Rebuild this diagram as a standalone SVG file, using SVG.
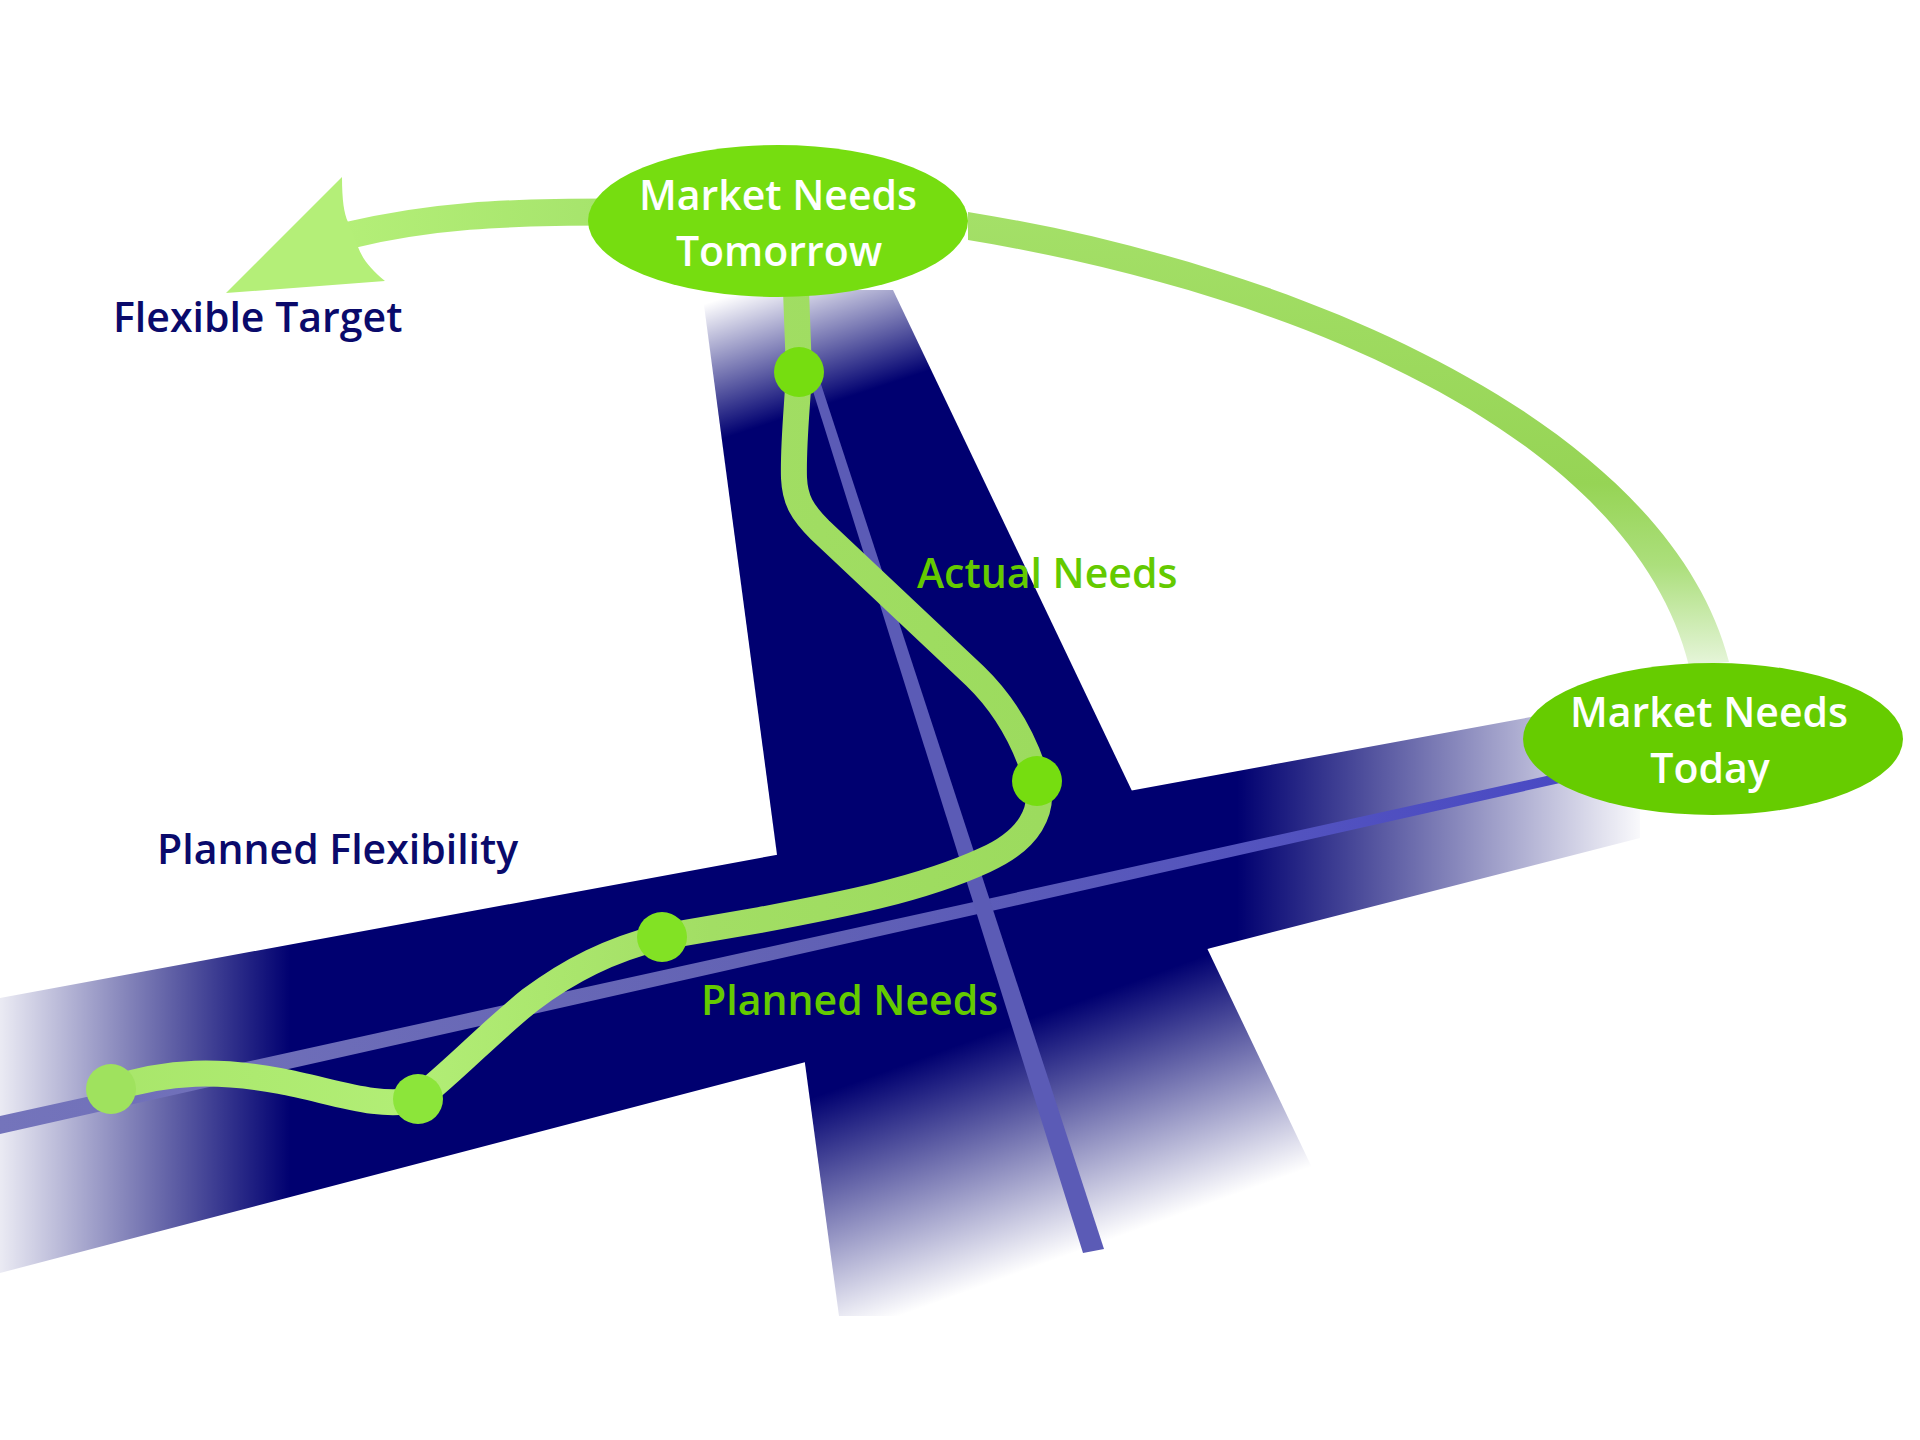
<svg xmlns="http://www.w3.org/2000/svg" width="1920" height="1440" viewBox="0 0 1920 1440">
<defs>
<style>
.nodeTxt{font-family:"Open Sans","Liberation Sans",sans-serif;font-weight:600;font-size:41px;fill:#ffffff;text-anchor:middle}
.navyTxt{font-family:"Open Sans","Liberation Sans",sans-serif;font-weight:600;font-size:41px;fill:#0a0a6b}
.greenTxt{font-family:"Open Sans","Liberation Sans",sans-serif;font-weight:600;font-size:41px;fill:#64ca00}
.road{stroke:none}
.dot{stroke:none}
</style>
<linearGradient id="gHRoad" gradientUnits="userSpaceOnUse" x1="0" y1="0" x2="1650" y2="0">
<stop offset="0" stop-color="#000070" stop-opacity="0.08"/>
<stop offset="0.176" stop-color="#000070" stop-opacity="1"/>
<stop offset="0.75" stop-color="#000070" stop-opacity="1"/>
<stop offset="1" stop-color="#000070" stop-opacity="0"/>
</linearGradient>
<linearGradient id="gVTop" gradientUnits="userSpaceOnUse" x1="713" y1="301" x2="755" y2="428">
<stop offset="0" stop-color="#000070" stop-opacity="0"/>
<stop offset="1" stop-color="#000070" stop-opacity="1"/>
</linearGradient>
<linearGradient id="gVBot" gradientUnits="userSpaceOnUse" x1="900" y1="1066" x2="980" y2="1287">
<stop offset="0" stop-color="#000070" stop-opacity="1"/>
<stop offset="1" stop-color="#000070" stop-opacity="0"/>
</linearGradient>
<linearGradient id="gHLine" gradientUnits="userSpaceOnUse" x1="0" y1="0" x2="1560" y2="0">
<stop offset="0" stop-color="#7474bb"/>
<stop offset="0.5" stop-color="#6262b4"/>
<stop offset="1" stop-color="#4a4ac4"/>
</linearGradient>
<linearGradient id="gCurve" gradientUnits="userSpaceOnUse" x1="100" y1="0" x2="1040" y2="0">
<stop offset="0" stop-color="#a8e66a"/>
<stop offset="0.33" stop-color="#b2ee76"/>
<stop offset="0.65" stop-color="#a2de64"/>
<stop offset="1" stop-color="#9cdb5e"/>
</linearGradient>
<linearGradient id="gArc" gradientUnits="userSpaceOnUse" x1="0" y1="212" x2="0" y2="665">
<stop offset="0" stop-color="#a4e068"/>
<stop offset="0.6" stop-color="#96d455"/>
<stop offset="0.78" stop-color="#acdf7c"/>
<stop offset="1" stop-color="#e6f5da"/>
</linearGradient>
<linearGradient id="gShaft" gradientUnits="userSpaceOnUse" x1="600" y1="0" x2="340" y2="0">
<stop offset="0" stop-color="#a6e46c"/>
<stop offset="1" stop-color="#b4ef78"/>
</linearGradient>
</defs>
<rect x="0" y="0" width="1920" height="1440" fill="#ffffff"/>

<g id="roads">
<polygon class="road" fill="url(#gVTop)" points="702,290 893,290 1184,900 783,900"/>
<polygon class="road" fill="url(#gVBot)" points="783,900 1184,900 1383,1316 839,1316"/>
<polygon class="road" fill="url(#gHRoad)" points="0,998 776,855 1129,791 1640,697 1640,838 1211,948 802,1063 0,1273"/>
</g>

<g id="axes">
<polygon fill="url(#gHLine)" points="0,1116 1560,773 1560,783 0,1134"/>
<polygon fill="#5b5bb6" points="807,372 817,372 1104,1249 1083,1253"/>
</g>

<g id="connectors">
<path id="arc-today-tomorrow" fill="url(#gArc)" d="M968,212 C1305,266 1668,425 1729,662 L1689,666 C1632,435 1295,294 968,240 Z"/>
<path id="arrow-shaft" fill="none" stroke="url(#gShaft)" stroke-width="27" d="M610,212 C500,212 430,216 350,235"/>
<path id="arrow-head" fill="#b4ef78" d="M342,177 C342,200 344,214 348,222 L358,247 C364,262 372,270 385,281 L226,293 Z"/>
<path id="actual-needs-path" fill="none" stroke="url(#gCurve)" stroke-width="26" stroke-linejoin="round" stroke-linecap="round" d="M796,290 L799,372 C797,410 793,445 794,478 C795,500 802,512 820,530 L975,676 C1005,705 1025,740 1037,781 C1045,810 1030,840 985,860 C920,890 840,905 760,920 C720,927 690,932 661,937 C610,950 570,970 530,1000 C490,1032 460,1065 418,1099 C380,1110 330,1090 280,1081 C220,1070 170,1070 111,1089"/>
</g>

<g id="milestones">
<circle class="dot" cx="799" cy="372" r="25" fill="#76dd10"/>
<circle class="dot" cx="1037" cy="781" r="25" fill="#76dd10"/>
<circle class="dot" cx="662" cy="937" r="25" fill="#82e224"/>
<circle class="dot" cx="418" cy="1099" r="25" fill="#8ce53a"/>
<circle class="dot" cx="111" cy="1089" r="25" fill="#9fe25e"/>
</g>

<g id="node-tomorrow">
<ellipse cx="778" cy="221" rx="190" ry="76" fill="#76dd10"/>
<text class="nodeTxt" x="778" y="210">Market Needs</text>
<text class="nodeTxt" x="779" y="266">Tomorrow</text>
</g>

<g id="node-today">
<ellipse cx="1713" cy="739" rx="190" ry="76" fill="#66cc00"/>
<text class="nodeTxt" x="1709" y="727">Market Needs</text>
<text class="nodeTxt" x="1710" y="783">Today</text>
</g>

<g id="label-flexible-target"><text class="navyTxt" x="113" y="332">Flexible Target</text></g>
<g id="label-planned-flexibility"><text class="navyTxt" x="157" y="864">Planned Flexibility</text></g>
<g id="label-actual-needs"><text class="greenTxt" x="917" y="588">Actual Needs</text></g>
<g id="label-planned-needs"><text class="greenTxt" x="701" y="1015">Planned Needs</text></g>
</svg>
